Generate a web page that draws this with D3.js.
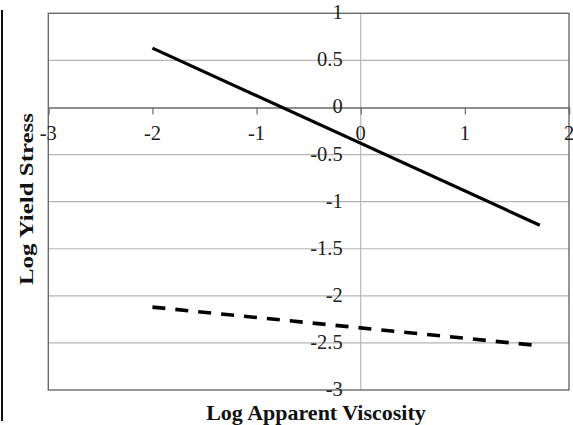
<!DOCTYPE html>
<html><head><meta charset="utf-8">
<script src="https://cdn.jsdelivr.net/npm/d3@7"></script>
<style>html,body{margin:0;padding:0;background:#fff;}svg{display:block;}</style>
</head><body>
<svg id="c" width="573" height="425"></svg>
<script>
const xTicks = [-3, -2, -1, 0, 1, 2];
const yTicks = [1, 0.5, 0, -0.5, -1, -1.5, -2, -2.5, -3];
const solidX = [-2, 1.72];
const solidY = [0.63, -1.25];
const dashedX = [-2, 1.72];
const dashedY = [-2.12, -2.53];

const svg = d3.select("#c");
const x = d3.scaleLinear().domain([-3, 2]).range([48.3, 569]);
const y = d3.scaleLinear().domain([-3, 1]).range([390, 13.3]);
const font = "'Liberation Serif','Times New Roman',serif";

// left decorative black bar
svg.append("line").attr("x1", 2).attr("x2", 2).attr("y1", 10).attr("y2", 421)
  .attr("stroke", "#111").attr("stroke-width", 2);

// horizontal gridlines
svg.append("g").selectAll("line").data(yTicks.filter(d => d !== 0 && d !== 1 && d !== -3)).join("line")
  .attr("x1", x(-3)).attr("x2", x(2)).attr("y1", d => y(d)).attr("y2", d => y(d))
  .attr("stroke", "#b4b4b4").attr("stroke-width", 1.2);

// y axis (vertical at x=0)
svg.append("line").attr("x1", x(0)).attr("x2", x(0)).attr("y1", y(1)).attr("y2", y(-3))
  .attr("stroke", "#b8b8b8").attr("stroke-width", 1.2);

// frame
svg.append("rect").attr("x", x(-3)).attr("y", y(1)).attr("width", x(2) - x(-3)).attr("height", y(-3) - y(1))
  .attr("fill", "none").attr("stroke", "#6a6a6a").attr("stroke-width", 1.4);

// x axis at y=0 with ticks
const xAxis = d3.axisBottom(x).tickValues(xTicks).tickSize(7).tickFormat("");
const gx = svg.append("g").attr("transform", `translate(0,${y(0)})`).call(xAxis);
gx.select(".domain").attr("stroke", "#6a6a6a").attr("stroke-width", 1.4);
gx.selectAll(".tick line").attr("stroke", "#6a6a6a").attr("stroke-width", 1.2);

// x tick labels
svg.append("g").selectAll("text").data(xTicks).join("text")
  .attr("x", d => x(d)).attr("y", y(0) + 33)
  .attr("text-anchor", "middle").attr("font-family", font).attr("font-size", 20.5)
  .attr("fill", "#222").text(d => d);

// y tick labels
svg.append("g").selectAll("text").data(yTicks).join("text")
  .attr("x", x(0) - 18).attr("y", d => y(d) + 6)
  .attr("text-anchor", "end").attr("font-family", font).attr("font-size", 20.5)
  .attr("fill", "#222").text(d => d);

// series lines
const line = d3.line().x(d => x(d[0])).y(d => y(d[1]));
svg.append("path").datum(solidX.map((v, i) => [v, solidY[i]])).attr("d", line)
  .attr("fill", "none").attr("stroke", "#000").attr("stroke-width", 3.2);
svg.append("path").datum(dashedX.map((v, i) => [v, dashedY[i]])).attr("d", line)
  .attr("fill", "none").attr("stroke", "#000").attr("stroke-width", 3.6)
  .attr("stroke-dasharray", "13,10");

// axis titles
svg.append("text").attr("x", 316).attr("y", 420)
  .attr("text-anchor", "middle").attr("font-family", font).attr("font-size", 22)
  .attr("font-weight", "bold").attr("fill", "#111").text("Log Apparent Viscosity");
svg.append("text").attr("transform", "translate(33,199) rotate(-90)")
  .attr("text-anchor", "middle").attr("font-family", font).attr("font-size", 19)
  .attr("font-weight", "bold").attr("fill", "#111")
  .attr("textLength", 172).attr("lengthAdjust", "spacingAndGlyphs")
  .text("Log Yield Stress");
</script>
</body></html>
